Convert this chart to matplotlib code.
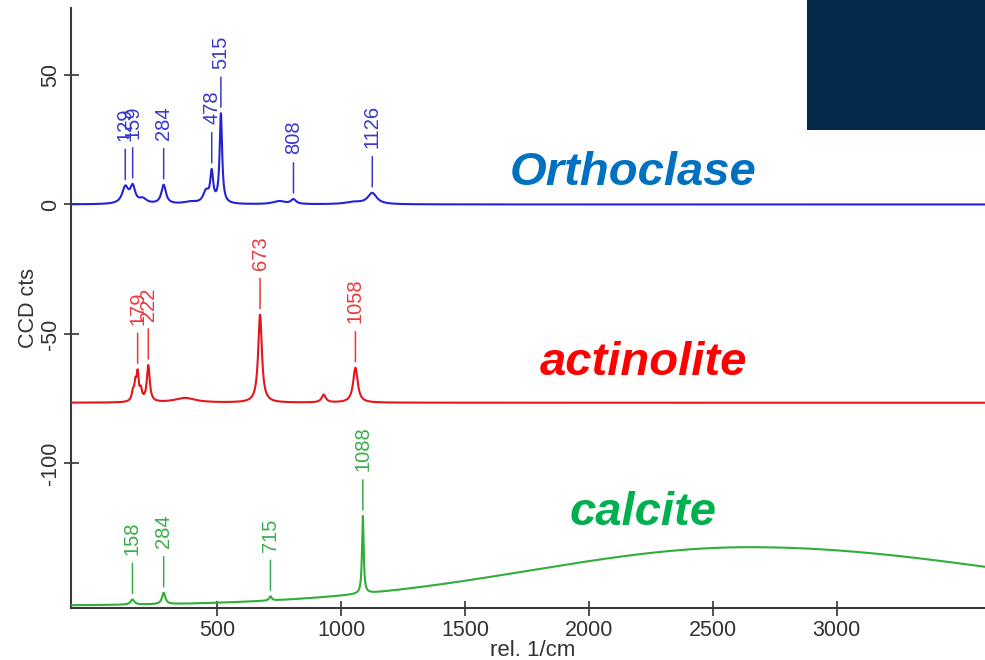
import numpy as np
import matplotlib
matplotlib.use("Agg")
import matplotlib.pyplot as plt
from matplotlib.patches import Rectangle

plt.rcParams["font.family"] = ["Liberation Sans", "DejaVu Sans"]
plt.rcParams["axes.unicode_minus"] = False

# Raman shift grid of the detector (rel. 1/cm)
shift_start, shift_stop, shift_step = -92.0, 3600.0, 1.0

# Orthoclase: baseline level and bands (position, height, half width)
ortho_offset = 0.0
ortho_pos = [129, 159, 200, 284, 390, 455, 478, 515, 750, 808, 1050, 1126]
ortho_height = [6.3, 6.3, 1.8, 7.3, 0.8, 4.5, 11.5, 34.5, 1.2, 1.8, 0.8, 4.3]
ortho_width = [15, 12, 18, 11, 30, 14, 7, 6, 30, 12, 40, 22]
ortho_marked = [129, 159, 284, 478, 515, 808, 1126]

# Actinolite
actin_offset = -76.6
actin_pos = [160, 170, 179, 192, 222, 370, 673, 930, 1058]
actin_height = [3.5, 6.0, 10.0, 4.0, 14.0, 1.8, 34.0, 3.0, 13.5]
actin_width = [6, 5, 5, 6, 7, 50, 9, 10, 11]
actin_marked = [179, 222, 673, 1058]

# Calcite: sharp bands on top of a broad fluorescence background
calc_offset = -155.0
calc_pos = [158, 284, 715, 1088]
calc_height = [2.0, 4.4, 1.6, 30.0]
calc_width = [9, 8, 6, 4]
calc_marked = [158, 284, 715, 1088]
fluor_center = 2650.0
fluor_height = 22.6
fluor_sigma_low = 880.0
fluor_sigma_high = 1050.0

x_ticks = [500, 1000, 1500, 2000, 2500, 3000]
y_ticks = [50, 0, -50, -100]

spectra = [
    ("Orthoclase", ortho_offset, ortho_pos, ortho_height, ortho_width, ortho_marked),
    ("actinolite", actin_offset, actin_pos, actin_height, actin_width, actin_marked),
    ("calcite", calc_offset, calc_pos, calc_height, calc_width, calc_marked),
]
line_colors = {"Orthoclase": "#2323d6", "actinolite": "#e3161b", "calcite": "#2fae3a"}
label_colors = {"Orthoclase": "#3a3ac8", "actinolite": "#e83a3a", "calcite": "#3aae48"}
name_colors = {"Orthoclase": "#0070c0", "actinolite": "#ff0000", "calcite": "#00b050"}
name_pos = {"Orthoclase": (1681, 7.5), "actinolite": (1802, -65.9), "calcite": (1924, -123.8)}

shift = np.arange(shift_start, shift_stop + shift_step, shift_step)


def lorentz_sum(x, pos, height, width):
    y = np.zeros_like(x)
    for p, h, w in zip(pos, height, width):
        y += h / (1.0 + ((x - p) / w) ** 2)
    return y


fig = plt.figure(figsize=(9.85, 6.6), dpi=100)
ax = fig.add_axes([70.5 / 985, 52 / 660, 914.5 / 985, 600 / 660])

for name, offset, pos, height, width, marked in spectra:
    y = offset + lorentz_sum(shift, pos, height, width)
    if name == "calcite":
        sig = np.where(shift < fluor_center, fluor_sigma_low, fluor_sigma_high)
        y = y + fluor_height * np.exp(-0.5 * ((shift - fluor_center) / sig) ** 2)
    ax.plot(shift, y, color=line_colors[name], lw=1.5, zorder=3)

    c = label_colors[name]
    for p in marked:
        near = np.abs(shift - p) <= 4
        top = y[near].max()
        ax.annotate("", xy=(p, top), xytext=(0, 26), textcoords="offset points",
                    arrowprops=dict(arrowstyle="-", color=c, lw=1.1,
                                    shrinkA=0, shrinkB=4.3))
        ax.annotate(str(p), xy=(p, top), xytext=(0, 32), textcoords="offset points",
                    rotation=90, ha="center", va="bottom", color=c, fontsize=14.5)

    nx, ny = name_pos[name]
    ax.text(nx, ny, name, color=name_colors[name], fontsize=34,
            fontweight="bold", fontstyle="italic", ha="left", va="baseline")

ax.set_xlim(-92, 3599)
ax.set_ylim(-155.9, 75.9)
ax.set_xticks(x_ticks)
ax.set_yticks(y_ticks)

for side in ("top", "right"):
    ax.spines[side].set_visible(False)
for side in ("left", "bottom"):
    ax.spines[side].set_color("#3a3a3a")
    ax.spines[side].set_linewidth(1.5)

ax.tick_params(direction="inout", length=10.8, width=1.2, color="#333333",
               labelcolor="#333333", labelsize=15.5)
ax.tick_params(axis="x", pad=3.2)
ax.tick_params(axis="y", pad=1.5, labelrotation=90)
for lab in ax.get_yticklabels():
    lab.set_va("center")

ax.set_xlabel("rel. 1/cm", fontsize=16, color="#333333")
ax.xaxis.set_label_coords((533 - 70.5) / 914.5, (608 - 656) / 600)
ax.xaxis.label.set_va("baseline")
ax.set_ylabel("CCD cts", fontsize=15.5, color="#333333")
ax.yaxis.set_label_coords((39 - 70.5) / 914.5, 0.5)

# dark header block in the upper right corner
fig.add_artist(Rectangle((807 / 985, 1 - 130 / 660), 178 / 985, 130 / 660,
                         transform=fig.transFigure, facecolor="#03284a",
                         edgecolor="none", zorder=10))

fig.savefig("out.png", dpi=100)
